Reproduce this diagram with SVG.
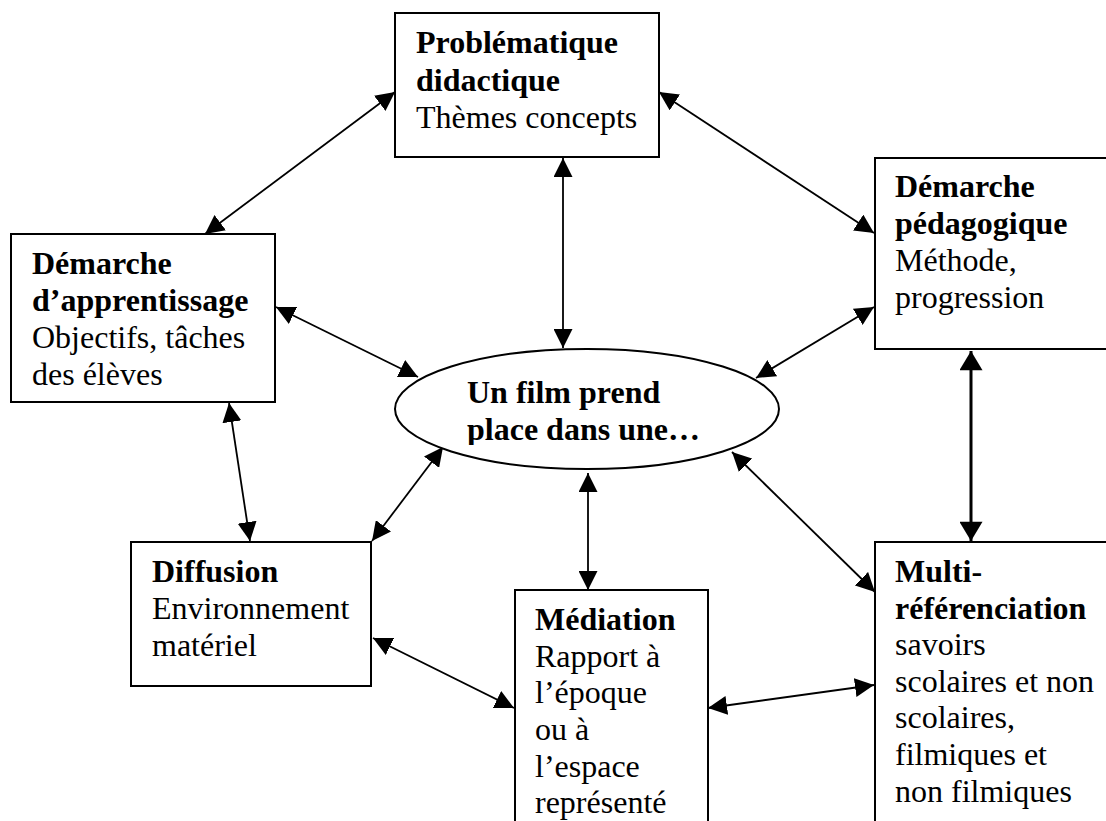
<svg xmlns="http://www.w3.org/2000/svg" width="1106" height="821" viewBox="0 0 1106 821">
<style>
.box{fill:#fff;stroke:#000;stroke-width:2}
.t{font-family:"Liberation Serif","Times New Roman",serif;font-size:32px;fill:#000}
.b{font-weight:bold}
.c{stroke:#000;stroke-width:1.8;fill:none;marker-start:url(#ah);marker-end:url(#ah)}
.ck{stroke:#000;stroke-width:3;fill:none;marker-start:url(#ahk);marker-end:url(#ahk)}
</style>
<defs>
<marker id="ah" viewBox="0 0 20 20" markerUnits="userSpaceOnUse" markerWidth="19" markerHeight="19" refX="20" refY="10" orient="auto-start-reverse"><path d="M0,0 L20,10 L0,20 z" fill="#000"/></marker>
<marker id="ahk" viewBox="0 0 20 24" markerUnits="userSpaceOnUse" markerWidth="20" markerHeight="23" refX="20" refY="12" orient="auto-start-reverse"><path d="M0,0 L20,12 L0,24 z" fill="#000"/></marker>
<clipPath id="ellclip"><rect x="400" y="360" width="360" height="85"/></clipPath>
</defs>
<rect width="1106" height="821" fill="#fff"/>
<g id="connectors">
<line class="c" x1="205" y1="234" x2="395" y2="92"/>
<line class="c" x1="659" y1="92" x2="874" y2="233"/>
<line class="c" x1="563" y1="158" x2="563" y2="348"/>
<line class="c" x1="276" y1="307" x2="418" y2="377"/>
<line class="c" x1="229" y1="403" x2="250" y2="541"/>
<line class="c" x1="372" y1="541" x2="443" y2="447"/>
<line class="c" x1="874" y1="307" x2="756" y2="378"/>
<line class="ck" x1="971" y1="351" x2="971" y2="541"/>
<line class="c" x1="732" y1="452" x2="875" y2="592"/>
<line class="c" x1="588" y1="473" x2="588" y2="590"/>
<line class="c" x1="373" y1="638" x2="514" y2="708"/>
<line class="c" x1="708" y1="708" x2="874" y2="685"/>
</g>
<g id="problematique">
<rect class="box" x="395" y="13" width="264" height="144"/>
<text class="t b" x="416" y="53">Problématique</text>
<text class="t b" x="416" y="91">didactique</text>
<text class="t" x="416" y="128">Thèmes concepts</text>
</g>
<g id="apprentissage">
<rect class="box" x="11" y="234" width="264" height="168"/>
<text class="t b" x="32" y="274">Démarche</text>
<text class="t b" x="32" y="311">d’apprentissage</text>
<text class="t" x="32" y="348">Objectifs, tâches</text>
<text class="t" x="32" y="385">des élèves</text>
</g>
<g id="pedagogique">
<rect class="box" x="875" y="158" width="250" height="191"/>
<text class="t b" x="895" y="197">Démarche</text>
<text class="t b" x="895" y="234">pédagogique</text>
<text class="t" x="895" y="271">Méthode,</text>
<text class="t" x="895" y="308">progression</text>
</g>
<g id="film">
<ellipse cx="587" cy="409" rx="192" ry="60" fill="#fff" stroke="#000" stroke-width="2"/>
<g clip-path="url(#ellclip)">
<text class="t b" x="467" y="403">Un film prend</text>
<text class="t b" x="467" y="440">place dans une…</text>
</g>
</g>
<g id="diffusion">
<rect class="box" x="131" y="542" width="240" height="144"/>
<text class="t b" x="152" y="582">Diffusion</text>
<text class="t" x="152" y="619">Environnement</text>
<text class="t" x="152" y="656">matériel</text>
</g>
<g id="mediation">
<rect class="box" x="515" y="590" width="193" height="250"/>
<text class="t b" x="535" y="630">Médiation</text>
<text class="t" x="535" y="667">Rapport à</text>
<text class="t" x="535" y="703">l’époque</text>
<text class="t" x="535" y="740">ou à</text>
<text class="t" x="535" y="777">l’espace</text>
<text class="t" x="535" y="813">représenté</text>
</g>
<g id="multireferenciation">
<rect class="box" x="875" y="542" width="250" height="300"/>
<text class="t b" x="895" y="582">Multi-</text>
<text class="t b" x="895" y="619">référenciation</text>
<text class="t" x="895" y="655">savoirs</text>
<text class="t" x="895" y="692">scolaires et non</text>
<text class="t" x="895" y="728">scolaires,</text>
<text class="t" x="895" y="765">filmiques et</text>
<text class="t" x="895" y="802">non filmiques</text>
</g>
</svg>
